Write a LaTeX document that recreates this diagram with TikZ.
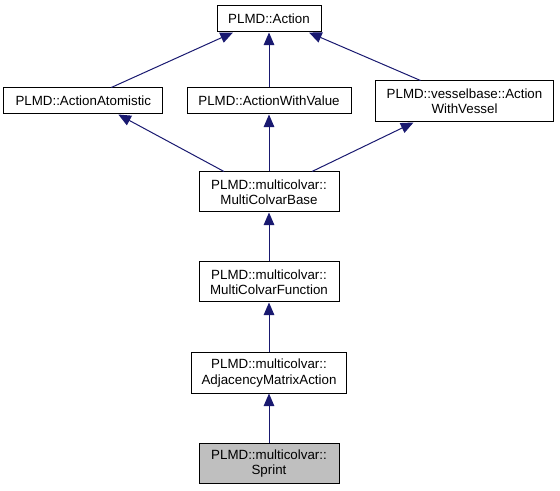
\documentclass[tikz,border=0pt]{standalone}
\usepackage{fontspec}
\setmainfont{Liberation Sans}
\usetikzlibrary{arrows.meta,calc}
\definecolor{edgeblue}{HTML}{191970}
\definecolor{sprintgray}{HTML}{BFBFBF}
\begin{document}
\begin{tikzpicture}[x=0.75pt,y=-0.75pt,
  cls/.style={draw=black,line width=0.75pt,fill=white,inner sep=0pt,align=center,
    font=\fontsize{10}{11.5}\selectfont,minimum height=19.5pt},
  cls2/.style={cls,minimum height=30pt},
  inh/.style={draw=edgeblue,line width=0.75pt,-{Triangle[length=9.5pt,width=8pt]},fill=none},
]
\useasboundingbox (0,0) rectangle (560,491);
\node[cls,minimum width=78pt] (act) at (269,19) {PLMD::Action};
\node[cls,minimum width=119.5pt] (aa) at (83.3,101) {PLMD::ActionAtomistic};
\node[cls,minimum width=123pt] (awv) at (269,101) {PLMD::ActionWithValue};
\node[cls2,minimum width=133pt,minimum height=30.75pt] (ves) at (464.5,101.5) {PLMD::vesselbase::Action\\WithVessel};
\node[cls2,minimum width=105pt] (mcb) at (269,192) {PLMD::multicolvar::\\MultiColvarBase};
\node[cls2,minimum width=105pt] (mcf) at (269,282) {PLMD::multicolvar::\\MultiColvarFunction};
\node[cls2,minimum width=116pt] (ama) at (269,373) {PLMD::multicolvar::\\AdjacencyMatrixAction};
\node[cls2,minimum width=105pt,fill=sprintgray] (spr) at (269,463.5) {PLMD::multicolvar::\\Sprint};
\draw[inh] ($(aa.north)+(28,0)$) -- ($(act.south)+(-36,0)$);
\draw[inh] (awv.north) -- (act.south);
\draw[inh] ($(ves.north)+(-44,0)$) -- ($(act.south)+(40,0)$);
\draw[inh] ($(mcb.north)+(-45,0)$) -- ($(aa.south)+(35,0)$);
\draw[inh] (mcb.north) -- (awv.south);
\draw[inh] ($(mcb.north)+(43,0)$) -- ($(ves.south)+(-51,0)$);
\draw[inh] (mcf.north) -- (mcb.south);
\draw[inh] (ama.north) -- (mcf.south);
\draw[inh] (spr.north) -- (ama.south);
\end{tikzpicture}
\end{document}
